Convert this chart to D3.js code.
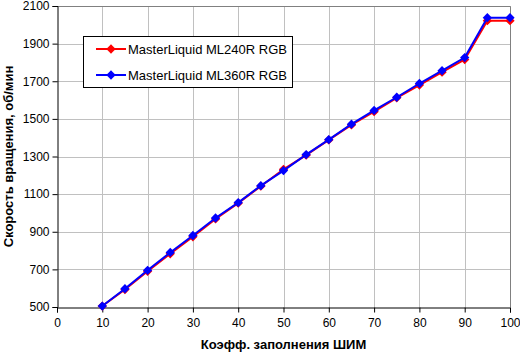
<!DOCTYPE html>
<html>
<head>
<meta charset="utf-8">
<script src="https://cdn.jsdelivr.net/npm/d3@7"></script>
<style>
  body { margin: 0; background: #fff; }
  svg text { font-family: "Liberation Sans", Arial, sans-serif; }
</style>
</head>
<body>
<div id="chart"></div>
<script>
// data
var fill = [10, 15, 20, 25, 30, 35, 40, 45, 50, 55, 60, 65, 70, 75, 80, 85, 90, 95, 100];
var ml240 = [505, 593, 690, 783, 873, 968, 1052, 1142, 1232, 1307, 1388, 1468, 1538, 1612, 1680, 1748, 1815, 2022, 2022];
var ml360 = [505, 597, 695, 790, 880, 973, 1055, 1145, 1225, 1310, 1390, 1472, 1545, 1615, 1688, 1756, 1826, 2038, 2038];
var seriesNames = ["MasterLiquid ML240R RGB", "MasterLiquid ML360R RGB"];
var seriesColors = ["#ff0000", "#0000ff"];
var xTicks = [0, 10, 20, 30, 40, 50, 60, 70, 80, 90, 100];
var yTicks = [500, 700, 900, 1100, 1300, 1500, 1700, 1900, 2100];

var W = 520, H = 354;
var mLeft = 57, mRight = 510, mTop = 6, mBottom = 307;

var svg = d3.select('#chart').append('svg')
  .attr('width', W).attr('height', H);

var x = d3.scaleLinear().domain([0, 100]).range([mLeft, mRight]);
var y = d3.scaleLinear().domain([500, 2100]).range([mBottom, mTop]);

// grid
svg.append('g').selectAll('line')
  .data(xTicks.slice(1)).enter().append('line')
  .attr('x1', d => Math.round(x(d)) + 0.5).attr('x2', d => Math.round(x(d)) + 0.5)
  .attr('y1', mTop).attr('y2', mBottom)
  .attr('stroke', '#c0c0c0').attr('stroke-width', 1);
svg.append('g').selectAll('line')
  .data(yTicks.slice(1)).enter().append('line')
  .attr('x1', mLeft).attr('x2', mRight)
  .attr('y1', d => Math.round(y(d)) + 0.5).attr('y2', d => Math.round(y(d)) + 0.5)
  .attr('stroke', '#c0c0c0').attr('stroke-width', 1);

// gray frame top/right
svg.append('path')
  .attr('d', 'M' + mLeft + ',' + (mTop + 0.5) + 'H' + (mRight + 0.5) + 'V' + mBottom)
  .attr('fill', 'none').attr('stroke', '#808080');

// axes
var xAxis = d3.axisBottom(x).tickValues(xTicks).tickFormat(d3.format('d')).tickSize(5).tickPadding(6);
var yAxis = d3.axisLeft(y).tickValues(yTicks).tickFormat(d3.format('d')).tickSize(5).tickPadding(3);

var gx = svg.append('g').attr('transform', 'translate(0,' + (mBottom + 0.5) + ')').call(xAxis);
var gy = svg.append('g').attr('transform', 'translate(' + (mLeft + 0.5) + ',0)').call(yAxis);
[gx, gy].forEach(function(g) {
  g.select('.domain').attr('stroke', '#000');
  g.selectAll('.tick line').attr('stroke', '#000');
  g.selectAll('.tick text').attr('fill', '#000')
    .style('font-size', '12px').style('font-family', '"Liberation Sans", Arial, sans-serif');
});

// axis titles
svg.append('text')
  .attr('x', (mLeft + mRight) / 2).attr('y', 349)
  .attr('text-anchor', 'middle')
  .style('font-size', '13px').style('font-weight', 'bold')
  .text('Коэфф. заполнения ШИМ');
svg.append('text')
  .attr('transform', 'translate(13,' + ((mTop + mBottom) / 2) + ') rotate(-90)')
  .attr('text-anchor', 'middle')
  .style('font-size', '13px').style('font-weight', 'bold')
  .text('Скорость вращения, об/мин');

// series
var diamond = d3.symbol().type(d3.symbolDiamond2).size(55);
var line = d3.line().x(d => x(d[0])).y(d => y(d[1]));

[ml240, ml360].forEach(function(vals, i) {
  var pts = fill.map((f, j) => [f, vals[j]]);
  svg.append('path').datum(pts)
    .attr('d', line)
    .attr('fill', 'none')
    .attr('stroke', seriesColors[i]).attr('stroke-width', 2);
  svg.append('g').selectAll('path')
    .data(pts).enter().append('path')
    .attr('d', diamond)
    .attr('transform', d => 'translate(' + x(d[0]) + ',' + y(d[1]) + ')')
    .attr('fill', seriesColors[i]);
});

// legend
var lg = svg.append('g').attr('transform', 'translate(83,36)');
lg.append('rect')
  .attr('x', 0.5).attr('y', 0.5).attr('width', 209).attr('height', 51)
  .attr('fill', '#fff').attr('stroke', '#000');
seriesNames.forEach(function(name, i) {
  var ly = 13 + i * 26;
  lg.append('line')
    .attr('x1', 13).attr('x2', 43).attr('y1', ly).attr('y2', ly)
    .attr('stroke', seriesColors[i]).attr('stroke-width', 2);
  lg.append('path')
    .attr('d', diamond)
    .attr('transform', 'translate(28,' + ly + ')')
    .attr('fill', seriesColors[i]);
  lg.append('text')
    .attr('x', 45).attr('y', ly).attr('dy', '0.35em')
    .style('font-size', '13px')
    .text(name);
});
</script>
</body>
</html>
